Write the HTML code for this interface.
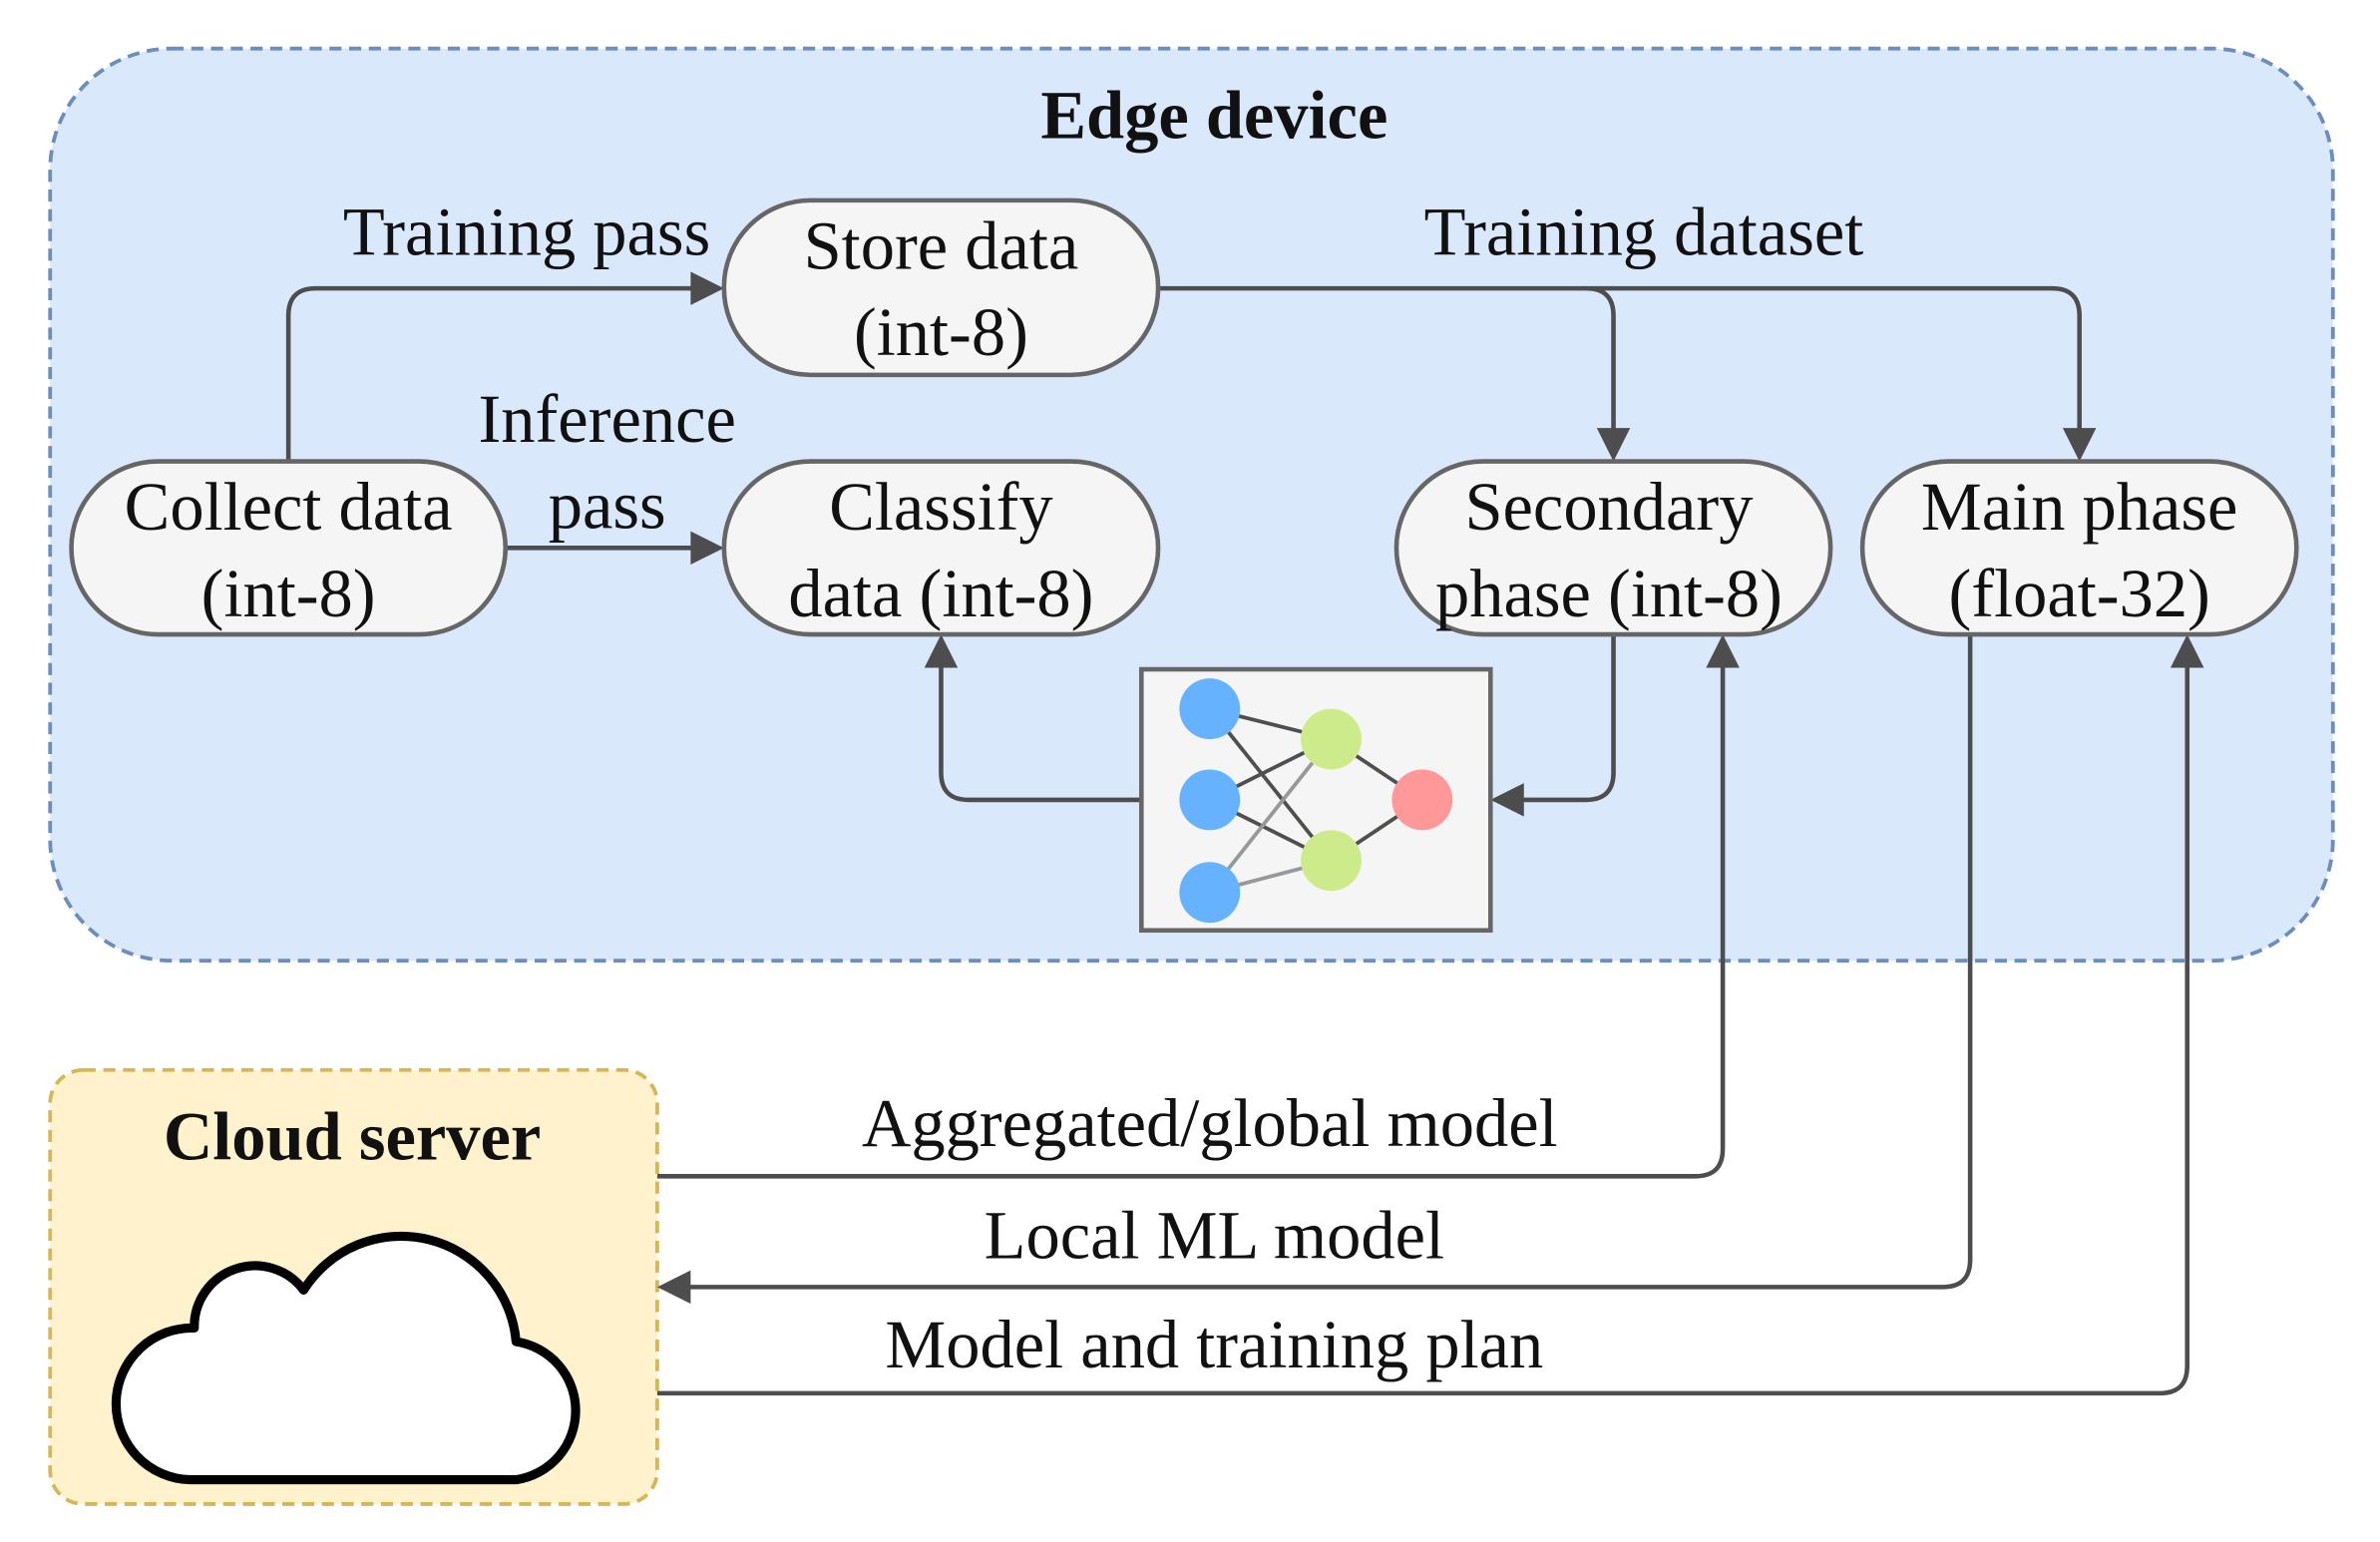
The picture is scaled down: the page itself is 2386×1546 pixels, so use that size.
<!DOCTYPE html>
<html><head><meta charset="utf-8"><style>
html,body{margin:0;padding:0;background:#fff;}
svg{display:block;}
text{font-family:"Liberation Serif",serif;fill:#111;}
</style></head><body>
<svg width="2386" height="1546" viewBox="0 0 1568 1016" xmlns="http://www.w3.org/2000/svg">
<rect x="33" y="32" width="1504" height="601" rx="80" fill="#dae8fc" stroke="#6c8ebf" stroke-width="2.5" stroke-dasharray="8 5"/>
<text x="800" y="91" font-size="45" font-weight="bold" text-anchor="middle">Edge device</text>
<rect x="33" y="705" width="400" height="286" rx="22" fill="#fff2cc" stroke="#d6b656" stroke-width="2.5" stroke-dasharray="8 5"/>
<text x="232" y="764" font-size="45" font-weight="bold" text-anchor="middle">Cloud server</text>
<path d="M125 975 H340 A46 46 0 0 0 340 884 A76 76 0 0 0 200 850 A40 40 0 0 0 128 875 A50 50 0 0 0 125 975 Z" fill="#fff" stroke="#000" stroke-width="6" stroke-linejoin="round"/>

<g fill="none" stroke="#4d4d4d" stroke-width="3">
<path d="M190 304 V208 Q190 190 208 190 H458"/>
<path d="M333 361 H458"/>
<path d="M763 190 H1045 Q1063 190 1063 208 V285"/>
<path d="M1045 190 H1352 Q1370 190 1370 208 V285"/>
<path d="M752 527 H638 Q620 527 620 509 V437"/>
<path d="M1063 418 V509 Q1063 527 1045 527 H1001"/>
<path d="M433 775 H1117 Q1135 775 1135 757 V437"/>
<path d="M1298 418 V830 Q1298 848 1280 848 H452"/>
<path d="M433 918 H1423 Q1441 918 1441 900 V437"/>
</g>
<g fill="#4d4d4d">
<polygon points="477,190 455,179 455,201"/>
<polygon points="477,361 455,350 455,372"/>
<polygon points="1063,304 1052,282 1074,282"/>
<polygon points="1370,304 1359,282 1381,282"/>
<polygon points="620,418 609,440 631,440"/>
<polygon points="982,527 1004,516 1004,538"/>
<polygon points="1135,418 1124,440 1146,440"/>
<polygon points="433,848 455,837 455,859"/>
<polygon points="1441,418 1430,440 1452,440"/>
</g>

<g fill="#f5f5f5" stroke="#666" stroke-width="3">
<rect x="477" y="132" width="286" height="115" rx="57"/>
<rect x="47" y="304" width="286" height="114" rx="57"/>
<rect x="477" y="304" width="286" height="114" rx="57"/>
<rect x="920" y="304" width="286" height="114" rx="57"/>
<rect x="1227" y="304" width="286" height="114" rx="57"/>
<rect x="752" y="441" width="230" height="172"/>
</g>

<g font-size="45" text-anchor="middle">
<text x="620" y="177">Store data</text><text x="620" y="234">(int-8)</text>
<text x="190" y="349">Collect data</text><text x="190" y="406">(int-8)</text>
<text x="620" y="349">Classify</text><text x="620" y="406">data (int-8)</text>
<text x="1060" y="349">Secondary</text><text x="1060" y="406">phase (int-8)</text>
<text x="1370" y="349">Main phase</text><text x="1370" y="406">(float-32)</text>
<text x="347" y="168">Training pass</text>
<text x="400" y="291">Inference</text><text x="400" y="348">pass</text>
<text x="1083" y="168">Training dataset</text>
<text x="797" y="755">Aggregated/global model</text>
<text x="800" y="829">Local ML model</text>
<text x="800" y="901">Model and training plan</text>
</g>

<g stroke="#333" stroke-width="2.5" opacity="0.85">
<line x1="797" y1="467" x2="877" y2="487"/><line x1="797" y1="467" x2="877" y2="567"/>
<line x1="797" y1="527" x2="877" y2="487"/><line x1="797" y1="527" x2="877" y2="567"/>
<line x1="797" y1="588" x2="877" y2="487" stroke="#888"/><line x1="797" y1="588" x2="877" y2="567" stroke="#888"/>
<line x1="877" y1="487" x2="937" y2="527"/><line x1="877" y1="567" x2="937" y2="527"/>
</g>
<g>
<circle cx="797" cy="467" r="20" fill="#66b2ff"/>
<circle cx="797" cy="527" r="20" fill="#66b2ff"/>
<circle cx="797" cy="588" r="20" fill="#66b2ff"/>
<circle cx="877" cy="487" r="20" fill="#cdeb8b"/>
<circle cx="877" cy="567" r="20" fill="#cdeb8b"/>
<circle cx="937" cy="527" r="20" fill="#ff9999"/>
</g>
</svg>
</body></html>
